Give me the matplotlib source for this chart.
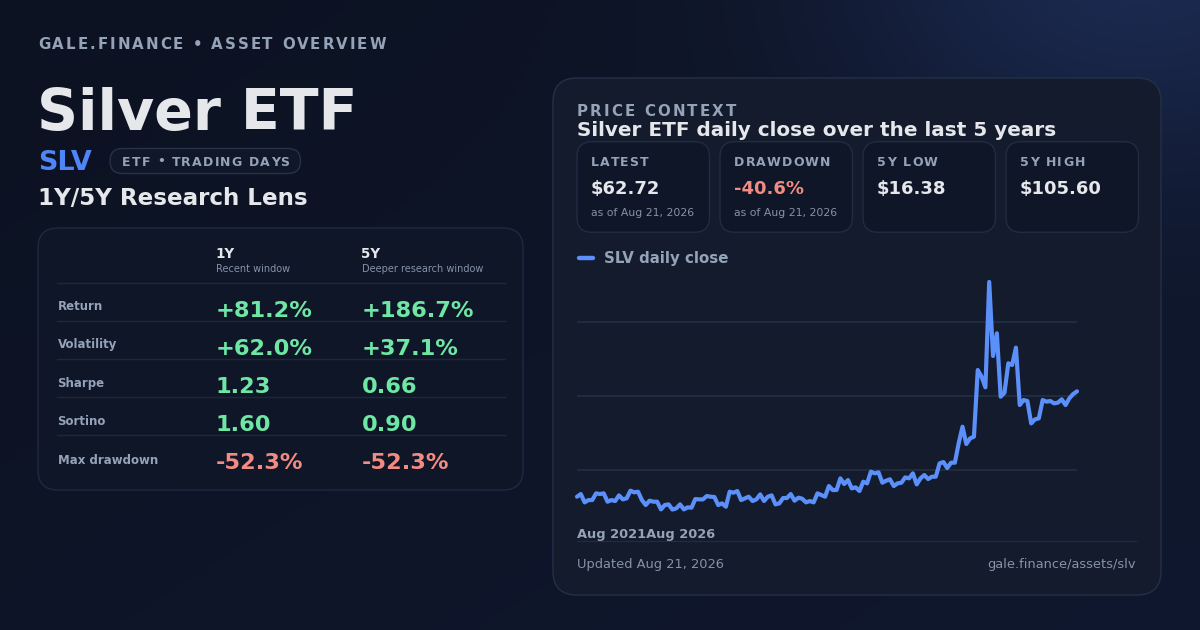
import numpy as np
import matplotlib
matplotlib.use("Agg")
import matplotlib.pyplot as plt
from matplotlib.patches import FancyBboxPatch
from matplotlib.font_manager import FontProperties

# ---------------- data ----------------
price_close = [
    21.42, 22.46, 19.20, 20.11, 20.11, 22.73, 22.46, 22.73, 19.46, 20.11,
    19.72, 21.94, 20.37, 20.77, 23.77, 23.12, 23.38, 20.11, 18.15, 19.85,
    19.46, 19.46, 16.45, 18.15, 18.41, 16.38, 16.84, 18.41, 16.45, 17.24,
    17.11, 20.50, 20.37, 20.37, 21.68, 21.42, 21.29, 18.15, 18.80, 17.50,
    23.38, 22.99, 23.64, 20.11, 20.77, 21.42, 19.72, 20.37, 22.33, 19.72,
    21.42, 21.94, 18.41, 18.80, 20.90, 20.90, 22.46, 19.85, 21.03, 20.63,
    19.20, 19.72, 19.20, 22.73, 22.07, 21.42, 25.60, 24.03, 24.03, 28.61,
    26.39, 27.95, 24.69, 25.08, 23.64, 27.30, 26.65, 31.22, 30.57, 30.96,
    26.91, 27.69, 28.22, 25.60, 26.65, 26.91, 29.00, 28.61, 30.57, 26.25,
    28.61, 29.91, 28.35, 29.26, 29.26, 34.49, 35.01, 32.66, 34.75, 34.75,
    42.33, 48.87, 42.07, 44.29, 44.94, 71.08, 68.47, 64.29, 105.60, 76.57,
    85.46, 60.63, 62.20, 73.70, 73.05, 79.84, 57.36, 59.32, 58.93, 50.17,
    51.74, 52.13, 59.32, 58.67, 58.93, 58.01, 58.28, 59.58, 57.36, 59.98,
    61.67, 62.72,
]
x_tick_labels = ["Aug 2021", "Aug 2026"]

metric_names = ["Return", "Volatility", "Sharpe", "Sortino", "Max drawdown"]
metrics_1y = ["+81.2%", "+62.0%", "1.23", "1.60", "-52.3%"]
metrics_5y = ["+186.7%", "+37.1%", "0.66", "0.90", "-52.3%"]
window_labels = ["1Y", "5Y"]
window_desc = ["Recent window", "Deeper research window"]

stat_labels = ["LATEST", "DRAWDOWN", "5Y LOW", "5Y HIGH"]
stat_values = ["$62.72", "-40.6%", "$16.38", "$105.60"]
stat_notes = ["as of Aug 21, 2026", "as of Aug 21, 2026", "", ""]

# ---------------- style ----------------
W, H = 1200, 630
WHITE = "#e5e7eb"
GRAY = "#94a3b8"
DIM = "#8592a7"
GREEN = "#6ee7a4"
RED = "#f28b82"
BLUE = "#5b8ff9"
SLV_BLUE = "#4f86f7"
FONT = "DejaVu Sans"

fig = plt.figure(figsize=(12, 6.3), dpi=100)
ax = fig.add_axes([0, 0, 1, 1])
ax.axis("off")

# background gradient + glow
yy, xx = np.mgrid[0:H, 0:W].astype(float)
c0 = np.array([12, 18, 33]) / 255
c1 = np.array([16, 24, 47]) / 255
t = (xx / W * 0.55 + yy / H * 0.45)[..., None]
img = c0 * (1 - t) + c1 * t
glow = (np.exp(-(((xx - 1140) / 300) ** 2 + ((yy + 40) / 210) ** 2)) * 0.8)[..., None]
gc = np.array([31, 47, 90]) / 255
img = img * (1 - glow) + gc * glow
ax.imshow(img, extent=(0, W, H, 0), zorder=0, aspect="auto", interpolation="bilinear")
ax.set_xlim(0, W)
ax.set_ylim(H, 0)

renderer = fig.canvas.get_renderer()


def rbox(x0, y0, x1, y1, r, fc, ec, lw=1.0, z=1):
    ax.add_patch(FancyBboxPatch((x0, y0), x1 - x0, y1 - y0,
                                boxstyle=f"round,pad=0,rounding_size={r}",
                                fc=fc, ec=ec, lw=lw, zorder=z))


def txt(x, y, s, px, color, weight="bold", ha="left", z=5):
    ax.text(x, y, s, fontsize=px * 0.72, fontweight=weight, color=color,
            ha=ha, va="baseline", family=FONT, zorder=z)


def spaced(x, y, s, px, color, sp, weight="bold"):
    fp = FontProperties(family=FONT, weight=weight, size=px * 0.72)

    def w(tx):
        return renderer.get_text_width_height_descent(tx, fp, ismath=False)[0]
    ref = w("x")
    for i, ch in enumerate(s):
        if ch == " ":
            continue
        off = (w(s[:i] + "x") - ref) if i else 0
        ax.text(x + off + i * sp, y, ch, fontproperties=fp, color=color,
                va="baseline", ha="left", zorder=5)


# ---------------- left side ----------------
spaced(38, 49, "GALE.FINANCE • ASSET OVERVIEW", 15, GRAY, 2.0)
txt(37, 130, "Silver ETF", 57, WHITE)
txt(38, 170.5, "SLV", 27, SLV_BLUE)
rbox(110, 148.5, 300.5, 173.5, 12.5, "#0f1729", "#26324b", lw=1.0, z=2)
spaced(122, 165.5, "ETF • TRADING DAYS", 12.5, GRAY, 1.2)
txt(38, 205, "1Y/5Y Research Lens", 23, WHITE)

# metrics card
rbox(38, 228, 523, 490, 20, "#0f1628", "#1f2a40", lw=1.0, z=1)
col_x = [215.5, 361.5]
for cx, lab, desc in zip(col_x, window_labels, window_desc):
    txt(cx, 258.3, lab, 13.5, WHITE)
    txt(cx, 271.7, desc, 9.8, DIM, weight="normal")
for i in range(len(metric_names)):
    ysep = 283 + 38 * i
    ax.plot([57, 505], [ysep, ysep], color="#1e283b", lw=1.0, zorder=2)
for i, name in enumerate(metric_names):
    txt(57.5, 309.5 + 38.5 * i, name, 11.8, GRAY)
    for cx, val in zip(col_x, (metrics_1y[i], metrics_5y[i])):
        col = RED if val.startswith("-") else GREEN
        txt(cx, 316.7 + 38.15 * i, val, 22.5, col)

# ---------------- right card ----------------
rbox(553, 78, 1161, 595, 24, "#131b2d", "#243049", lw=1.0, z=1)
spaced(577, 115.5, "PRICE CONTEXT", 15, GRAY, 2.1)
txt(577, 135.5, "Silver ETF daily close over the last 5 years", 20, WHITE)

box_x = [577, 720, 863, 1006]
for bx, lab, val, note in zip(box_x, stat_labels, stat_values, stat_notes):
    rbox(bx, 141.7, bx + 132.5, 232.3, 15, "#0f1627", "#212c43", lw=1.0, z=2)
    spaced(bx + 14, 165.5, lab, 12.5, GRAY, 1.2)
    txt(bx + 14, 193.5, val, 18, RED if val.startswith("-") else WHITE)
    if note:
        txt(bx + 14, 216.5, note, 10.9, DIM, weight="normal")

# legend
ax.plot([579, 592.5], [258, 258], color=BLUE, lw=3.2, solid_capstyle="round", zorder=5)
txt(604, 263.3, "SLV daily close", 15, GRAY)

# chart
cx0, cx1, cy0, cy1 = 577, 1077, 247.55, 544.15
cax = fig.add_axes([cx0 / W, 1 - cy1 / H, (cx1 - cx0) / W, (cy1 - cy0) / H])
cax.set_facecolor("none")
n = len(price_close)
xs = np.arange(n)
cax.set_xlim(0, n - 1)
cax.set_ylim(2.82, 119.08)
lo, hi = cax.get_ylim()
for g in lo + (hi - lo) * np.array([0.25, 0.5, 0.75]):
    cax.axhline(g, color="#232d42", lw=1.3, zorder=1)
cax.plot(xs, price_close, color=BLUE, lw=3.0, solid_joinstyle="round",
         solid_capstyle="round", zorder=3, clip_on=False)
for sp in cax.spines.values():
    sp.set_visible(False)
cax.set_xticks([])
cax.set_yticks([])

txt(577, 538, "".join(x_tick_labels), 13, GRAY)
ax.plot([577, 1136], [541.3, 541.3], color="#222c40", lw=1.0, zorder=2)
txt(577, 568, "Updated Aug 21, 2026", 13, DIM, weight="normal")
txt(1136, 568, "gale.finance/assets/slv", 13, DIM, weight="normal", ha="right")

fig.savefig("out.png", dpi=100)
